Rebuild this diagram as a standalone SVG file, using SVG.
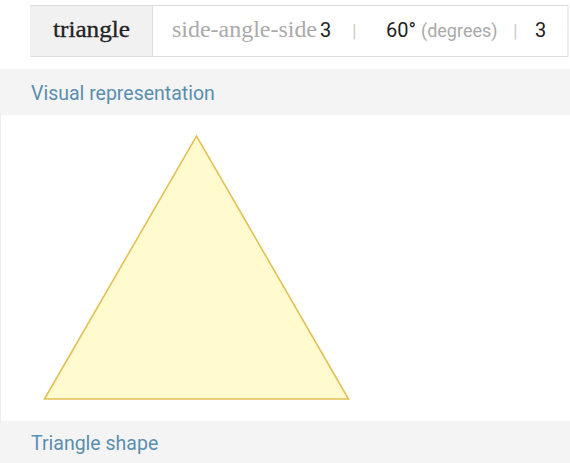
<svg xmlns="http://www.w3.org/2000/svg" width="570" height="463" viewBox="0 0 570 463">
<style>
.serif{font-family:"Liberation Serif","DejaVu Serif",serif;}
.sans{font-family:Roboto,"Liberation Sans",sans-serif;}
.dark{fill:#222;}
.muted{fill:#aaa;}
.band{fill:#f4f4f4;}
.bandtxt{font-family:Roboto,"Liberation Sans",sans-serif;font-size:19.5px;fill:#5a8fae;}
</style>
<rect width="570" height="463" fill="#fff"/>
<g id="input-box">
<rect x="31" y="5.5" width="537" height="51" fill="#fff" stroke="#ddd" stroke-width="1"/>
<rect x="31.5" y="6" width="121" height="50" fill="#f1f1f1"/>
<line x1="152.5" y1="6" x2="152.5" y2="56" stroke="#ddd"/>
<text class="serif dark" x="91.5" y="37" font-size="24" text-anchor="middle" textLength="77" lengthAdjust="spacingAndGlyphs" stroke="#222" stroke-width="0.3">triangle</text>
<text class="serif muted" x="172" y="37" font-size="24" textLength="145" lengthAdjust="spacingAndGlyphs">side-angle-side</text>
<text class="sans dark" x="320" y="37" font-size="20">3</text>
<text class="sans" x="352" y="37" font-size="19" fill="#ccc">|</text>
<text class="sans dark" x="386" y="37" font-size="20">60°</text>
<text class="sans muted" x="421" y="37" font-size="18">(degrees)</text>
<text class="sans" x="513" y="37" font-size="19" fill="#ccc">|</text>
<text class="sans dark" x="535" y="37" font-size="20">3</text>
</g>
<g id="visual-header">
<rect class="band" x="0" y="69" width="570" height="46"/>
<text class="bandtxt" x="31" y="99.5">Visual representation</text>
</g>
<g id="visual-area">
<line x1="0.5" y1="115" x2="0.5" y2="421" stroke="#eee"/>
<polygon points="44.5,399 196.5,136 348.5,399" fill="#fffbcf" stroke="#e1c155" stroke-width="1.6" stroke-linejoin="miter"/>
</g>
<g id="shape-footer">
<rect class="band" x="0" y="421" width="570" height="42"/>
<text class="bandtxt" x="31" y="450">Triangle shape</text>
</g>
</svg>
